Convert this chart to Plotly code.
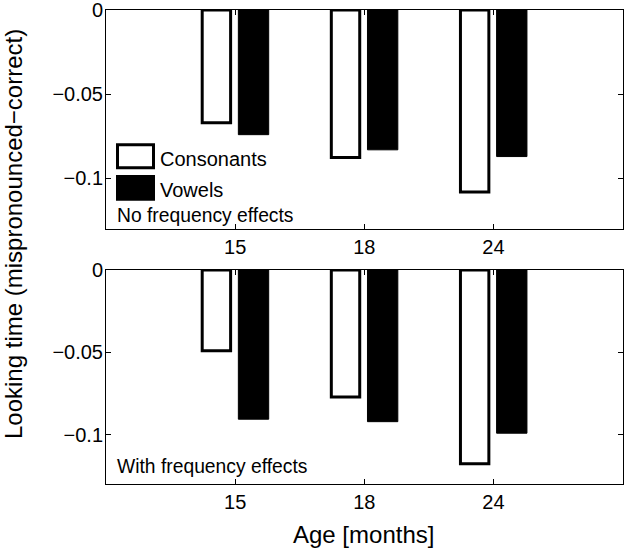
import plotly.graph_objects as go

ages = ["15", "18", "24"]
x_pos = [1, 2, 3]
cons_nofreq = [-0.067, -0.0875, -0.108]
vow_nofreq = [-0.074, -0.083, -0.087]
cons_freq = [-0.049, -0.077, -0.1175]
vow_freq = [-0.0905, -0.092, -0.099]
y_ticks = [0, -0.05, -0.1]
y_ticktext = ["0", "\u22120.05", "\u22120.1"]
panel_labels = ["No frequency effects", "With frequency effects"]

W, H = 624, 552
FONT = "Liberation Sans, Arial, Helvetica, sans-serif"

def px(x):
    return x / W

def py(y):
    return 1 - y / H

fig = go.Figure()
xdom = [px(106), px(622.5)]
ydoms = [[py(229), py(10)], [py(484.3), py(270)]]

panels = [(cons_nofreq, vow_nofreq), (cons_freq, vow_freq)]
for i, (c, v) in enumerate(panels):
    xa = "x" if i == 0 else "x2"
    ya = "y" if i == 0 else "y2"
    fig.add_trace(go.Bar(x=x_pos, y=c, xaxis=xa, yaxis=ya, width=0.22, offset=-0.255,
                         marker=dict(color="white", line=dict(color="black", width=3)),
                         showlegend=False, name="Consonants"))
    fig.add_trace(go.Bar(x=x_pos, y=v, xaxis=xa, yaxis=ya, width=0.235, offset=0.025,
                         marker=dict(color="black", line=dict(color="black", width=1)),
                         showlegend=False, name="Vowels"))

axis_common = dict(showline=True, linecolor="black", linewidth=1, mirror="ticks",
                   ticks="inside", ticklen=5, tickcolor="black", showgrid=False,
                   zeroline=False, automargin=False, ticklabeloverflow="allow",
                   tickfont=dict(family=FONT, size=20, color="black"))

layout = dict(
    template="none",
    width=W, height=H, margin=dict(l=0, r=0, t=0, b=0, pad=0),
    paper_bgcolor="white", plot_bgcolor="white", barmode="overlay",
    font=dict(family=FONT, color="black"),
)
for i in range(2):
    sx = "" if i == 0 else "2"
    layout["xaxis" + sx] = dict(domain=xdom, range=[0, 4], tickvals=x_pos, ticktext=ages,
                                anchor="y" + sx, **axis_common)
    layout["yaxis" + sx] = dict(domain=ydoms[i], range=[-0.13, 0], tickvals=y_ticks,
                                ticktext=y_ticktext, anchor="x" + sx,
                                ticklabelstandoff=-2, **axis_common)
fig.update_layout(**layout)

# legend drawn manually (large MATLAB-style patches)
fig.add_shape(type="rect", xref="paper", yref="paper", x0=px(117.5), x1=px(153.5),
              y0=py(167.8), y1=py(144.8), line=dict(color="black", width=3), fillcolor="white")
fig.add_shape(type="rect", xref="paper", yref="paper", x0=px(116), x1=px(155),
              y0=py(200.7), y1=py(175), line=dict(color="black", width=0), fillcolor="black")
leg_font = dict(family=FONT, size=20, color="black")
fig.add_annotation(xref="paper", yref="paper", x=px(158), y=py(158.5), text="Consonants",
                   showarrow=False, xanchor="left", yanchor="middle", font=leg_font)
fig.add_annotation(xref="paper", yref="paper", x=px(158), y=py(190.5), text="Vowels",
                   showarrow=False, xanchor="left", yanchor="middle", font=leg_font)

lab_font = dict(family=FONT, size=19.3, color="black")
fig.add_annotation(xref="paper", yref="paper", x=px(115), y=py(216), text=panel_labels[0],
                   showarrow=False, xanchor="left", yanchor="middle", font=lab_font)
fig.add_annotation(xref="paper", yref="paper", x=px(115), y=py(466), text=panel_labels[1],
                   showarrow=False, xanchor="left", yanchor="middle", font=lab_font)

title_font = dict(family=FONT, size=24, color="black")
fig.add_annotation(xref="paper", yref="paper", x=px(363), y=py(534), text="Age [months]",
                   showarrow=False, xanchor="center", yanchor="middle", font=title_font)
fig.add_annotation(xref="paper", yref="paper", x=px(13), y=py(234),
                   text="Looking time (mispronounced\u2212correct)", textangle=-90,
                   showarrow=False, xanchor="center", yanchor="middle", font=title_font)

fig.write_html("out.html", config={"displayModeBar": False},
               post_script="document.body.style.margin='0';document.body.style.overflow='hidden';")
